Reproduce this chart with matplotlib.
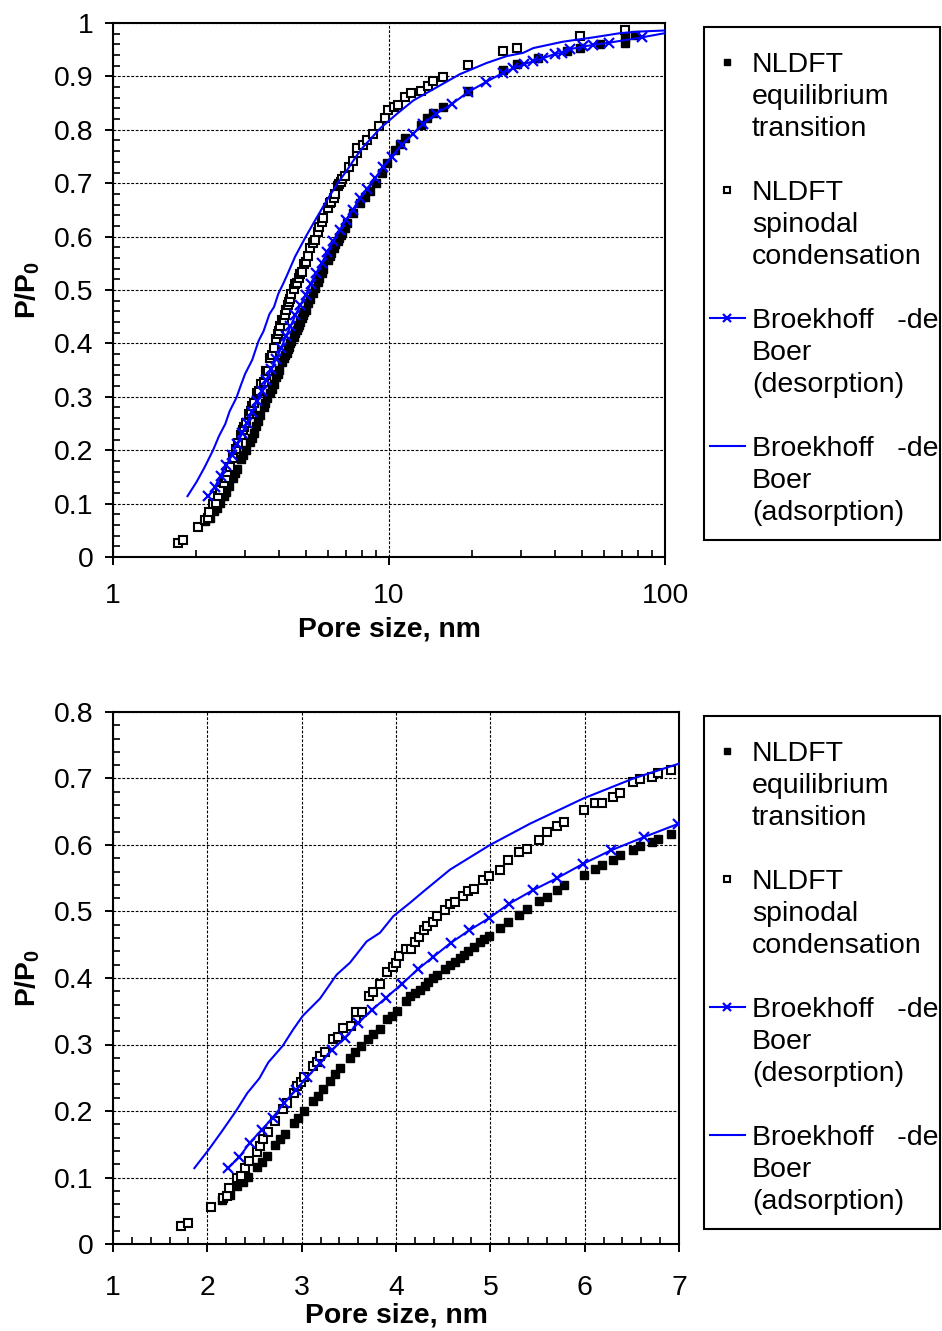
import matplotlib
matplotlib.use("Agg")
import matplotlib.pyplot as plt
from matplotlib.lines import Line2D
from matplotlib.patches import Rectangle
from matplotlib.ticker import MultipleLocator, FuncFormatter, FixedLocator, LogLocator, NullFormatter

plt.rcParams['font.family'] = ['Liberation Sans', 'DejaVu Sans']
plt.rcParams['mathtext.fontset'] = 'custom'
plt.rcParams['mathtext.rm'] = 'Liberation Sans'
plt.rcParams['mathtext.bf'] = 'Liberation Sans:bold'

# NLDFT equilibrium transition: pore size (nm) and relative pressure
eq_d = [2.152, 2.240, 2.318, 2.375, 2.435, 2.523, 2.576, 2.629, 2.717, 2.770,
        2.823, 2.919, 2.965, 3.025, 3.124, 3.177, 3.230, 3.300, 3.353, 3.406,
        3.512, 3.565, 3.626, 3.707, 3.760, 3.830, 3.901, 3.954, 4.007, 4.106,
        4.148, 4.201, 4.254, 4.307, 4.343, 4.396, 4.431, 4.520, 4.573, 4.626,
        4.679, 4.721, 4.767, 4.827, 4.891, 4.933, 4.989, 5.103, 5.191, 5.308,
        5.386, 5.519, 5.597, 5.703, 5.781, 5.993, 6.110, 6.187, 6.304, 6.375,
        6.509, 6.587, 6.710, 6.781, 6.912, 7.05, 7.42, 7.85, 8.18, 8.51,
        8.99, 9.41, 9.81, 10.54, 11.0, 11.43, 13.03, 13.69, 14.47, 15.65,
        19.39, 25.96, 29.02, 34.8, 44.2, 49.4, 58.1, 71.6, 71.6, 77.7]
eq_p = [0.0665, 0.0735, 0.0866, 0.0926, 0.1010, 0.1151, 0.1226, 0.1326, 0.1486, 0.1576,
        0.1651, 0.1826, 0.1901, 0.2001, 0.2151, 0.2226, 0.2326, 0.2451, 0.2552, 0.2652,
        0.2802, 0.2887, 0.2977, 0.3077, 0.3152, 0.3237, 0.3377, 0.3427, 0.3502, 0.3652,
        0.3727, 0.3777, 0.3827, 0.3887, 0.3937, 0.4003, 0.4038, 0.4128, 0.4188, 0.4243,
        0.4303, 0.4353, 0.4403, 0.4468, 0.4538, 0.4588, 0.4628, 0.4753, 0.4838, 0.4953,
        0.5038, 0.5153, 0.5218, 0.5318, 0.5398, 0.5553, 0.5638, 0.5698, 0.5778, 0.5854,
        0.5918, 0.5978, 0.6038, 0.6089, 0.6169, 0.625, 0.645, 0.662, 0.675, 0.685,
        0.700, 0.720, 0.738, 0.762, 0.773, 0.784, 0.809, 0.823, 0.831, 0.843,
        0.872, 0.912, 0.923, 0.934, 0.948, 0.953, 0.961, 0.963, 0.972, 0.978]

# NLDFT spinodal condensation
sp_d = [1.718, 1.797, 2.035, 2.163, 2.205, 2.233, 2.311, 2.353, 2.399, 2.438,
        2.523, 2.558, 2.593, 2.646, 2.717, 2.799, 2.840, 2.919, 2.947, 2.990,
        3.025, 3.116, 3.158, 3.194, 3.247, 3.335, 3.388, 3.441, 3.523, 3.573,
        3.573, 3.636, 3.714, 3.753, 3.830, 3.908, 3.964, 4.000, 4.035, 4.106,
        4.156, 4.201, 4.247, 4.297, 4.332, 4.389, 4.431, 4.520, 4.573, 4.626,
        4.714, 4.767, 4.827, 4.926, 4.989, 5.103, 5.191, 5.308, 5.386, 5.519,
        5.597, 5.703, 5.781, 5.993, 6.110, 6.187, 6.304, 6.375, 6.509, 6.587,
        6.710, 6.781, 6.912, 7.18, 7.42, 7.64, 7.68, 8.03, 8.34, 8.73,
        9.22, 9.67, 9.94, 10.43, 10.81, 11.43, 11.99, 13.03, 13.88, 14.47,
        15.65, 19.39, 25.96, 29.02, 49.2, 71.6]
sp_p = [0.0266, 0.0315, 0.056, 0.0686, 0.0725, 0.0836, 0.100, 0.102, 0.1145, 0.1246,
        0.1386, 0.1476, 0.1586, 0.1686, 0.185, 0.2026, 0.2126, 0.2277, 0.2376, 0.2436,
        0.2511, 0.2677, 0.2737, 0.2826, 0.2887, 0.3077, 0.3117, 0.3242, 0.3277, 0.3403,
        0.3487, 0.3487, 0.3727, 0.3787, 0.3917, 0.4087, 0.4167, 0.4227, 0.4327, 0.4438,
        0.4438, 0.4538, 0.4618, 0.4728, 0.4778, 0.4838, 0.4928, 0.5028, 0.5118, 0.5138,
        0.5228, 0.5303, 0.5338, 0.5478, 0.5528, 0.5628, 0.5779, 0.5888, 0.5939, 0.6079,
        0.6189, 0.6279, 0.6339, 0.6529, 0.6629, 0.6639, 0.6729, 0.6789, 0.6949, 0.6989,
        0.7029, 0.7079, 0.7129, 0.731, 0.742, 0.757, 0.765, 0.772, 0.780, 0.792,
        0.807, 0.823, 0.838, 0.843, 0.846, 0.862, 0.868, 0.873, 0.882, 0.892,
        0.898, 0.921, 0.948, 0.954, 0.976, 0.986]

# Broekhoff-de Boer, desorption branch (last point closes the curve, no marker)
des_d = [2.215, 2.339, 2.452, 2.576, 2.693, 2.813, 2.937, 3.060, 3.194, 3.322,
         3.459, 3.594, 3.742, 3.894, 4.067, 4.237, 4.396, 4.580, 4.778, 4.989,
         5.201, 5.448, 5.710, 5.986, 6.276, 6.629, 6.993, 7.39, 7.85, 8.34,
         8.90, 9.49, 10.23, 11.1, 12.19, 13.27, 14.79, 16.86, 19.39, 22.55,
         25.96, 28.19, 30.8, 33.2, 36.1, 39.9, 42.3, 45.3, 50.6, 54.9,
         62.5, 82.2, 100.0]
des_p = [0.1136, 0.1306, 0.1526, 0.1716, 0.1901, 0.2116, 0.2316, 0.2511, 0.2717, 0.2917,
         0.3102, 0.3317, 0.3517, 0.3702, 0.3917, 0.4138, 0.4318, 0.4528, 0.4718, 0.4903,
         0.5118, 0.5318, 0.5504, 0.5719, 0.5918, 0.6119, 0.6319, 0.650, 0.672, 0.690,
         0.709, 0.730, 0.750, 0.772, 0.792, 0.811, 0.830, 0.848, 0.871, 0.890,
         0.907, 0.915, 0.923, 0.928, 0.934, 0.942, 0.944, 0.951, 0.956, 0.959,
         0.963, 0.973, 0.981]

# Broekhoff-de Boer, adsorption branch
ads_d = [1.862, 2.010, 2.152, 2.304, 2.424, 2.551, 2.646, 2.799, 2.912, 3.011,
         3.194, 3.371, 3.512, 3.689, 3.830, 3.972, 4.148, 4.290, 4.573, 4.996,
         5.420, 5.986, 6.516, 7.046, 7.6, 8.07, 9.3, 10.69, 12.26, 14.47,
         18.04, 22.55, 26.7, 30.6, 33.3, 42.7, 54.9, 68.8, 81.0, 100.0]
ads_p = [0.114, 0.141, 0.169, 0.200, 0.227, 0.249, 0.273, 0.298, 0.323, 0.343,
         0.369, 0.405, 0.423, 0.455, 0.468, 0.493, 0.513, 0.530, 0.563, 0.600,
         0.632, 0.670, 0.700, 0.7245, 0.750, 0.768, 0.803, 0.830, 0.855, 0.876,
         0.904, 0.925, 0.938, 0.944, 0.953, 0.965, 0.973, 0.981, 0.984, 0.986]

legend_labels = [
    ["NLDFT", "equilibrium", "transition"],
    ["NLDFT", "spinodal", "condensation"],
    ["Broekhoff   -de", "Boer", "(desorption)"],
    ["Broekhoff   -de", "Boer", "(adsorption)"],
]
x_label = "Pore size, nm"
y_label = r"$\mathbf{P/P_0}$"
top_xticks = [1, 10, 100]
bot_xticks = [1, 2, 3, 4, 5, 6, 7]

W, H = 942, 1331
fig = plt.figure(figsize=(W / 100, H / 100), dpi=100)
FS = 20.4
LEG_FS = 20.5


def fx(px):
    return px / W


def fy(py):
    return 1 - py / H


ax_top = fig.add_axes([fx(113), fy(557), fx(665) - fx(113), fy(23) - fy(557)])
ax_bot = fig.add_axes([fx(113), fy(1244), fx(679) - fx(113), fy(712) - fy(1244)])

EQ = dict(ls='none', marker='s', ms=5.6, mfc='black', mec='black', mew=1)
SP = dict(ls='none', marker='s', ms=6, mfc='white', mec='black', mew=1.5)
DES = dict(color='blue', lw=1.5, marker='x', ms=7.5, mew=1.6)
ADS = dict(color='blue', lw=1.5)


def draw_series(ax):
    ax.plot(eq_d, eq_p, zorder=3, **EQ)
    ax.plot(sp_d, sp_p, zorder=4, **SP)
    ax.plot(des_d, des_p, zorder=5, markevery=slice(0, len(des_d) - 1), **DES)
    ax.plot(ads_d, ads_p, zorder=5, **ADS)


def style(ax, xpad):
    for s in ax.spines.values():
        s.set_linewidth(1.5)
    ax.grid(True, which='major', color='black', ls=(0, (2.5, 1.5)), lw=0.8)
    ax.set_axisbelow(True)
    ax.tick_params(which='major', direction='out', length=6, width=1.4,
                   labelsize=FS, top=False, right=False)
    ax.tick_params(which='minor', direction='in', length=5, width=1.2,
                   top=False, right=False)
    ax.tick_params(axis='x', which='major', pad=xpad)
    ax.tick_params(axis='y', which='major', pad=8)
    ax.yaxis.set_major_formatter(FuncFormatter(lambda v, _: '%g' % round(v, 2)))
    ax.set_xlabel(x_label, fontsize=FS, fontweight='bold')
    ax.set_ylabel(y_label, fontsize=FS)


# Upper panel: logarithmic pore-size axis
draw_series(ax_top)
ax_top.set_xscale('log')
ax_top.set_xlim(1, 100)
ax_top.set_ylim(0, 1)
ax_top.xaxis.set_major_locator(FixedLocator(top_xticks))
ax_top.xaxis.set_major_formatter(FuncFormatter(lambda v, _: '%g' % v))
ax_top.xaxis.set_minor_locator(LogLocator(base=10, subs=range(2, 10)))
ax_top.xaxis.set_minor_formatter(NullFormatter())
ax_top.yaxis.set_major_locator(MultipleLocator(0.1))
ax_top.yaxis.set_minor_locator(MultipleLocator(0.02))
style(ax_top, 13)
ax_top.xaxis.set_label_coords(0.5, -0.112)
ax_top.yaxis.set_label_coords(-0.128, 0.5)

# Lower panel: linear zoom on small pores
draw_series(ax_bot)
ax_bot.set_xlim(1, 7)
ax_bot.set_ylim(0, 0.8)
ax_bot.xaxis.set_major_locator(FixedLocator(bot_xticks))
ax_bot.xaxis.set_minor_locator(MultipleLocator(0.2))
ax_bot.yaxis.set_major_locator(MultipleLocator(0.1))
ax_bot.yaxis.set_minor_locator(MultipleLocator(0.02))
style(ax_bot, 16)
ax_bot.xaxis.set_label_coords(0.5, -0.11)
ax_bot.yaxis.set_label_coords(-0.125, 0.5)


def draw_legend(top_px):
    x0, x1 = 704, 940
    y1 = top_px + 513
    fig.add_artist(Rectangle((fx(x0), fy(y1)), fx(x1) - fx(x0), fy(top_px) - fy(y1),
                             transform=fig.transFigure, fill=False, ec='black', lw=1.5))
    styles = [EQ, SP, DES, ADS]
    for i, (lines, st) in enumerate(zip(legend_labels, styles)):
        yc = top_px + 35 + i * 128
        if st is DES or st is ADS:
            fig.add_artist(Line2D([fx(710), fx(745)], [fy(yc), fy(yc)],
                                  transform=fig.transFigure, color='blue', lw=1.5))
        if 'marker' in st:
            mk = dict(st)
            mk['ls'] = 'none'
            mk['ms'] = st['ms'] * 0.75
            mk.pop('lw', None)
            fig.add_artist(Line2D([fx(727)], [fy(yc)], transform=fig.transFigure, **mk))
        for j, txt in enumerate(lines):
            fig.text(fx(752), fy(yc + j * 32), txt, fontsize=LEG_FS,
                     ha='left', va='center_baseline')


draw_legend(27)
draw_legend(716)

fig.savefig("out.png", dpi=100)
